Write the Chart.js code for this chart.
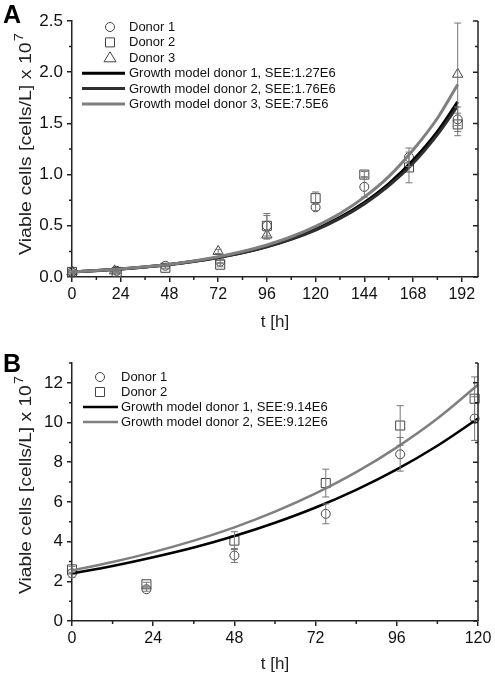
<!DOCTYPE html>
<html>
<head>
<meta charset="utf-8">
<script src="https://cdn.jsdelivr.net/npm/chart.js@4.4.1/dist/chart.umd.min.js"></script>
<style>
  body { margin: 0; background: #fff; width: 495px; height: 674px; position: relative; overflow: hidden; }
  .box { position: absolute; left: 0; width: 495px; height: 337px; }
  #boxA { top: 0; }
  #boxB { top: 337px; }
</style>
</head>
<body>
<div class="box" id="boxA"><canvas id="chartA" width="495" height="337"></canvas></div>
<div class="box" id="boxB"><canvas id="chartB" width="495" height="337"></canvas></div>
<script>
// ---- panel A data ----
const xTicksA = [0, 24, 48, 72, 96, 120, 144, 168, 192];
const xMinorA = [12, 36, 60, 84, 108, 132, 156, 180];
const yTicksA = [0, 0.5, 1.0, 1.5, 2.0, 2.5];
const yMinorA = [0.25, 0.75, 1.25, 1.75, 2.25];

const timeA = [0, 22, 46, 73, 96, 120, 144, 166, 190];
const donor1A = [0.05, 0.06, 0.11, 0.15, 0.50, 0.68, 0.88, 1.17, 1.54];
const donor1ErrA = [0.01, 0.01, 0.01, 0.02, 0.12, 0.03, 0.10, 0.09, 0.12];
const donor2A = [0.05, 0.05, 0.09, 0.12, 0.50, 0.77, 1.00, 1.07, 1.49];
const donor2ErrA = [0.01, 0.01, 0.01, 0.02, 0.10, 0.06, 0.03, 0.15, 0.11];
const time3A = [0, 21, 72, 96, 190];
const donor3A = [0.05, 0.06, 0.25, 0.41, 1.98];
const donor3ErrA = [0.01, 0.01, 0.02, 0.04, 0.50];

const modelTimeA = [0, 12, 24, 36, 48, 60, 72, 84, 96, 108, 120, 132, 144, 156, 168, 180, 190];
const model1A = [0.05, 0.0625, 0.078, 0.098, 0.122, 0.153, 0.191, 0.238, 0.298, 0.373, 0.466, 0.582, 0.728, 0.91, 1.14, 1.42, 1.71];
const model2A = [0.05, 0.062, 0.078, 0.097, 0.121, 0.151, 0.189, 0.236, 0.294, 0.367, 0.458, 0.572, 0.714, 0.89, 1.11, 1.39, 1.67];
const model3A = [0.05, 0.063, 0.079, 0.099, 0.125, 0.157, 0.198, 0.249, 0.313, 0.393, 0.495, 0.62, 0.78, 0.98, 1.24, 1.55, 1.88];
const legendA = ['Donor 1', 'Donor 2', 'Donor 3',
  'Growth model donor 1, SEE:1.27E6', 'Growth model donor 2, SEE:1.76E6', 'Growth model donor 3, SEE:7.5E6'];

// ---- panel B data ----
const xTicksB = [0, 24, 48, 72, 96, 120];
const xMinorB = [12, 36, 60, 84, 108];
const yTicksB = [0, 2, 4, 6, 8, 10, 12];
const yMinorB = [1, 3, 5, 7, 9, 11, 13];

const timeB = [0, 22, 48, 75, 97, 119];
const donor1B = [2.4, 1.6, 3.3, 5.4, 8.4, 10.2];
const donor1ErrB = [0.2, 0.1, 0.35, 0.5, 0.85, 1.1];
const donor2B = [2.6, 1.85, 4.05, 6.95, 9.85, 11.2];
const donor2ErrB = [0.15, 0.1, 0.45, 0.7, 1.0, 1.1];

const modelTimeB = [0, 12, 24, 36, 48, 60, 72, 84, 96, 108, 120];
const model1B = [2.40, 2.77, 3.21, 3.70, 4.28, 4.95, 5.72, 6.61, 7.64, 8.83, 10.2];
const model2B = [2.55, 2.97, 3.47, 4.05, 4.72, 5.51, 6.43, 7.50, 8.75, 10.2, 11.9];
const legendB = ['Donor 1', 'Donor 2', 'Growth model donor 1, SEE:9.14E6', 'Growth model donor 2, SEE:9.12E6'];

const FONT = 'Arial, "Liberation Sans", sans-serif';
const AXIS = '#222';
const MARK = '#444';
const ERR = '#777';

const pts = (xs, ys) => xs.map((x, i) => ({ x: x, y: ys[i] }));

function markers(label, xs, ys, errs, style, r) {
  return {
    label: label, data: pts(xs, ys), errors: errs, showLine: false,
    pointStyle: style, pointRadius: r, pointBorderWidth: 1,
    pointBorderColor: MARK, pointBackgroundColor: 'rgba(0,0,0,0)', clip: false
  };
}
function model(label, xs, ys, color, w) {
  return {
    label: label, data: pts(xs, ys), showLine: true, borderColor: color, borderWidth: w,
    pointRadius: 0, cubicInterpolationMode: 'monotone', fill: false
  };
}

function drawMarker(ctx, type, x, y) {
  ctx.strokeStyle = MARK; ctx.lineWidth = 1;
  ctx.beginPath();
  if (type === 'circle') ctx.arc(x, y, 4.5, 0, Math.PI * 2);
  else if (type === 'rect') ctx.rect(x - 4.5, y - 4.5, 9, 9);
  else { ctx.moveTo(x, y - 6); ctx.lineTo(x + 6, y + 4); ctx.lineTo(x - 6, y + 4); ctx.closePath(); }
  ctx.stroke();
}

const decor = {
  id: 'decor',
  afterDatasetsDraw(chart, args, o) {
    const ctx = chart.ctx, a = chart.chartArea;
    const xs = chart.scales.x, ys = chart.scales.y;
    ctx.save();

    // error bars
    ctx.strokeStyle = ERR; ctx.lineWidth = 1;
    chart.data.datasets.forEach(ds => {
      if (!ds.errors) return;
      ds.data.forEach((p, j) => {
        const e = ds.errors[j];
        const px = xs.getPixelForValue(p.x);
        const t = ys.getPixelForValue(p.y + e), b = ys.getPixelForValue(p.y - e);
        ctx.beginPath();
        ctx.moveTo(px, t); ctx.lineTo(px, b);
        ctx.moveTo(px - 3.5, t); ctx.lineTo(px + 3.5, t);
        ctx.moveTo(px - 3.5, b); ctx.lineTo(px + 3.5, b);
        ctx.stroke();
      });
    });

    // minor ticks, right axis
    ctx.strokeStyle = AXIS; ctx.lineWidth = 1.5;
    ctx.beginPath();
    o.xMinor.forEach(v => { const p = xs.getPixelForValue(v); ctx.moveTo(p, a.bottom); ctx.lineTo(p, a.bottom + 3); });
    o.yMinor.forEach(v => {
      const p = ys.getPixelForValue(v);
      ctx.moveTo(a.left, p); ctx.lineTo(a.left - 3, p);
      ctx.moveTo(a.right, p); ctx.lineTo(a.right - 3, p);
    });
    o.yMajor.forEach(v => { const p = ys.getPixelForValue(v); ctx.moveTo(a.right, p); ctx.lineTo(a.right - 5, p); });
    ctx.moveTo(a.right, a.top); ctx.lineTo(a.right, a.bottom);
    ctx.stroke();

    // legend
    const L = o.legend;
    L.items.forEach((it, i) => {
      const y = L.y0 + i * L.dy;
      if (it.type === 'line') {
        ctx.strokeStyle = it.color; ctx.lineWidth = it.w;
        ctx.beginPath(); ctx.moveTo(L.lx0, y); ctx.lineTo(L.lx1, y); ctx.stroke();
      } else {
        drawMarker(ctx, it.type, L.mx, y);
      }
      ctx.fillStyle = '#111'; ctx.font = '13px ' + FONT;
      ctx.textAlign = 'left'; ctx.textBaseline = 'middle';
      ctx.fillText(it.text, L.tx, y + 0.5);
    });

    // y title with superscript, stretched along its length like the original
    ctx.fillStyle = '#222';
    ctx.translate(o.yTitle.x, o.yTitle.y);
    ctx.rotate(-Math.PI / 2);
    const main = 'Viable cells [cells/L] x 10';
    ctx.font = '16px ' + FONT;
    const mw = ctx.measureText(main).width;
    ctx.font = '12px ' + FONT;
    const sw = ctx.measureText('7').width;
    const total = mw + sw + 1;
    ctx.scale(o.yTitle.len / total, 1);
    const x0 = -total / 2;
    ctx.textAlign = 'left'; ctx.textBaseline = 'alphabetic';
    ctx.font = '16px ' + FONT;
    ctx.fillText(main, x0, 0);
    ctx.font = '12px ' + FONT;
    ctx.fillText('7', x0 + mw + 1, -8);
    ctx.setTransform(1, 0, 0, 1, 0, 0);

    // x title
    ctx.font = '17px ' + FONT; ctx.textAlign = 'center'; ctx.textBaseline = 'alphabetic';
    ctx.fillText('t [h]', (a.left + a.right) / 2, o.xTitleY);

    // panel letter
    ctx.fillStyle = '#000';
    ctx.font = 'bold 25px ' + FONT; ctx.textAlign = 'left';
    ctx.fillText(o.letter.text, 3, o.letter.y);
    ctx.restore();
  }
};

function makeChart(id, cfg) {
  return new Chart(document.getElementById(id), {
    type: 'scatter',
    data: { datasets: cfg.datasets },
    options: {
      responsive: false, animation: false, devicePixelRatio: 1,
      layout: { padding: { top: cfg.padTop, right: 17, left: 0, bottom: 0 } },
      plugins: { legend: { display: false }, tooltip: { enabled: false }, decor: cfg.decor },
      scales: {
        x: {
          type: 'linear', min: 0, max: cfg.xMax,
          afterBuildTicks: s => { s.ticks = cfg.xTicks.map(v => ({ value: v })); },
          afterFit: s => { s.height = cfg.xHeight; },
          grid: { drawOnChartArea: false, tickLength: 5, color: AXIS, lineWidth: 1.5 },
          border: { color: AXIS, width: 1.5 },
          ticks: { color: '#111', font: { size: 16, family: FONT }, padding: 3, maxRotation: 0, callback: v => String(v) }
        },
        y: {
          type: 'linear', min: 0, max: cfg.yMax,
          afterBuildTicks: s => { s.ticks = cfg.yTicks.map(v => ({ value: v })); },
          afterFit: s => { s.width = 72; },
          grid: { drawOnChartArea: false, tickLength: 5, color: AXIS, lineWidth: 1.5 },
          border: { color: AXIS, width: 1.5 },
          ticks: { color: '#111', font: { size: 17, family: FONT }, padding: 4, callback: cfg.yFmt }
        }
      }
    },
    plugins: [decor]
  });
}

makeChart('chartA', {
  padTop: 21, xMax: 200, yMax: 2.5, xHeight: 60,
  xTicks: xTicksA, yTicks: yTicksA, yFmt: v => v.toFixed(1),
  datasets: [
    model(legendA[5], modelTimeA, model3A, '#7f7f7f', 3),
    model(legendA[4], modelTimeA, model2A, '#2e2e2e', 3),
    model(legendA[3], modelTimeA, model1A, '#000000', 3),
    markers(legendA[0], timeA, donor1A, donor1ErrA, 'circle', 4.5),
    markers(legendA[1], timeA, donor2A, donor2ErrA, 'rect', 6.4),
    markers(legendA[2], time3A, donor3A, donor3ErrA, 'triangle', 6)
  ],
  decor: {
    xMinor: xMinorA, yMinor: yMinorA, yMajor: yTicksA,
    legend: {
      y0: 27, dy: 15.4, mx: 110, lx0: 82, lx1: 125, tx: 129,
      items: [
        { type: 'circle', text: legendA[0] },
        { type: 'rect', text: legendA[1] },
        { type: 'triangle', text: legendA[2] },
        { type: 'line', color: '#000000', w: 3, text: legendA[3] },
        { type: 'line', color: '#2e2e2e', w: 3, text: legendA[4] },
        { type: 'line', color: '#7f7f7f', w: 3, text: legendA[5] }
      ]
    },
    yTitle: { x: 31, y: 144, len: 222 }, xTitleY: 327, letter: { text: 'A', y: 23 }
  }
});

makeChart('chartB', {
  padTop: 26, xMax: 120, yMax: 13, xHeight: 53,
  xTicks: xTicksB, yTicks: yTicksB, yFmt: v => String(v),
  datasets: [
    model(legendB[3], modelTimeB, model2B, '#7f7f7f', 2.5),
    model(legendB[2], modelTimeB, model1B, '#000000', 2.5),
    markers(legendB[0], timeB, donor1B, donor1ErrB, 'circle', 4.5),
    markers(legendB[1], timeB, donor2B, donor2ErrB, 'rect', 6.4)
  ],
  decor: {
    xMinor: xMinorB, yMinor: yMinorB, yMajor: yTicksB,
    legend: {
      y0: 40, dy: 15, mx: 100, lx0: 83, lx1: 118, tx: 121,
      items: [
        { type: 'circle', text: legendB[0] },
        { type: 'rect', text: legendB[1] },
        { type: 'line', color: '#000000', w: 2.5, text: legendB[2] },
        { type: 'line', color: '#7f7f7f', w: 2.5, text: legendB[3] }
      ]
    },
    yTitle: { x: 31, y: 148, len: 218 }, xTitleY: 332, letter: { text: 'B', y: 35 }
  }
});
</script>
</body>
</html>
